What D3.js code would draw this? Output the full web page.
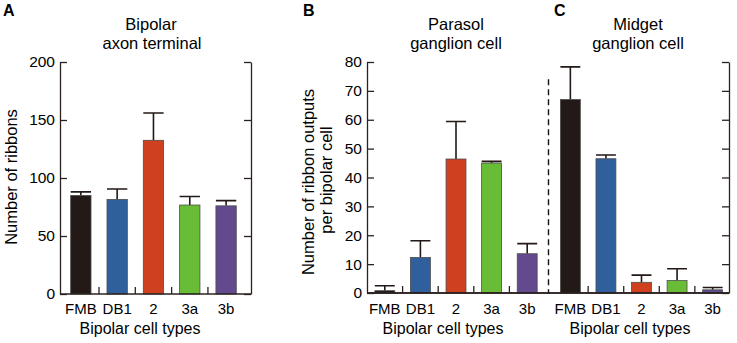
<!DOCTYPE html>
<html>
<head>
<meta charset="utf-8">
<script src="https://cdn.jsdelivr.net/npm/d3@7"></script>
<style>
  body { margin: 0; background: #fff; }
  svg { display: block; font-family: "Liberation Sans", Arial, sans-serif; }
</style>
</head>
<body>
<svg id="fig" width="737" height="343"></svg>
<script>
// data
var cellTypes = ["FMB", "DB1", "2", "3a", "3b"];
var barColours = ["#231916", "#2f5f9c", "#cf401f", "#69bc35", "#634a8e"];

var ribbonMean = [85, 81.5, 132.5, 76.7, 76];      // A: bipolar axon terminal
var ribbonErr = [3, 9, 23.5, 7.3, 4.5];
var parasolMean = [0.8, 12.3, 46.4, 45, 13.6];    // B: parasol ganglion cell
var parasolErr = [1.7, 5.8, 13, 0.6, 3.5];
var midgetMean = [67, 46.5, 3.7, 4.3, 1.1];       // C: midget ganglion cell
var midgetErr = [11.3, 1.3, 2.5, 4.1, 0.8];

var ticksA = [0, 50, 100, 150, 200];
var ticksB = [0, 10, 20, 30, 40, 50, 60, 70, 80];

const svg = d3.select("#fig");
var axisColour = "#2a2220";
var textColour = "#000";

// y scales
var yA = d3.scaleLinear().domain([0, 200]).range([294, 62]);
var yB = d3.scaleLinear().domain([0, 80]).range([293, 62]);

// x scales
var xA = d3.scaleBand().domain(cellTypes).range([60, 251]).paddingInner(0.44).paddingOuter(0.35).align(0.42);
var xB = d3.scaleBand().domain(cellTypes).range([367, 545]).paddingInner(0.44).paddingOuter(0.22);
var xC = d3.scaleBand().domain(cellTypes).range([554, 729]).paddingInner(0.44).paddingOuter(0.18);

function leftAxis(y, x0, ticks) {
  var g = svg.append("g")
    .attr("transform", "translate(" + x0 + ",0)")
    .call(d3.axisLeft(y).tickValues(ticks).tickSizeInner(-7).tickSizeOuter(0).tickPadding(5));
  g.selectAll("path, line").attr("stroke", axisColour).attr("stroke-width", 1.3);
  g.selectAll("text").attr("font-size", 15.5).attr("fill", textColour).attr("font-family", null);
}

function rightAxis(y, x0, ticks) {
  var g = svg.append("g")
    .attr("transform", "translate(" + x0 + ",0)")
    .call(d3.axisRight(y).tickValues(ticks).tickSizeInner(-7).tickSizeOuter(0).tickFormat(""));
  g.selectAll("path, line").attr("stroke", axisColour).attr("stroke-width", 1.3);
}

function bottomAxis(x, y0, xStart, xEnd) {
  svg.append("line")
    .attr("x1", xStart).attr("x2", xEnd)
    .attr("y1", y0).attr("y2", y0)
    .attr("stroke", axisColour).attr("stroke-width", 1.3);
  var half = x.step() * x.paddingInner() / 2;
  // small upward ticks between bars
  svg.append("g").selectAll("line")
    .data(cellTypes.slice(1))
    .enter().append("line")
      .attr("x1", d => x(d) - half).attr("x2", d => x(d) - half)
      .attr("y1", y0).attr("y2", y0 - 7)
      .attr("stroke", axisColour).attr("stroke-width", 1.3);
  // category labels
  svg.append("g").selectAll("text")
    .data(cellTypes)
    .enter().append("text")
      .attr("x", d => x(d) + x.bandwidth() / 2)
      .attr("y", 313.5)
      .attr("text-anchor", "middle")
      .attr("font-size", 15)
      .attr("fill", textColour)
      .text(d => d);
}

function bars(x, y, means, errs) {
  var rows = cellTypes.map((c, i) => ({ type: c, mean: means[i], err: errs[i], colour: barColours[i] }));
  var g = svg.append("g");
  // error bars first, so the bar covers the lower half
  g.selectAll(".err")
    .data(rows)
    .enter().append("path")
      .attr("class", "err")
      .attr("fill", "none")
      .attr("stroke", "#231916")
      .attr("stroke-width", 1.6)
      .attr("d", d => {
        var cx = x(d.type) + x.bandwidth() / 2;
        var top = y(d.mean + d.err);
        return "M" + cx + "," + y(d.mean) + "V" + top +
               "M" + x(d.type) + "," + top + "H" + (x(d.type) + x.bandwidth());
      });
  g.selectAll(".bar")
    .data(rows)
    .enter().append("rect")
      .attr("class", "bar")
      .attr("x", d => x(d.type))
      .attr("y", d => y(d.mean))
      .attr("width", x.bandwidth())
      .attr("height", d => y(0) - y(d.mean))
      .attr("fill", d => d.colour)
      .attr("stroke", "#4d4d4d")
      .attr("stroke-width", 0.8);
}

function label(txt, x, y, size, weight, anchor) {
  svg.append("text")
    .attr("x", x).attr("y", y)
    .attr("font-size", size)
    .attr("font-weight", weight || "normal")
    .attr("text-anchor", anchor || "middle")
    .attr("fill", textColour)
    .text(txt);
}

// ---- panel A
bars(xA, yA, ribbonMean, ribbonErr);
leftAxis(yA, 60, ticksA);
rightAxis(yA, 251, ticksA);
bottomAxis(xA, yA(0), 60, 251);

// ---- panels B and C share one y scale
bars(xB, yB, parasolMean, parasolErr);
bars(xC, yB, midgetMean, midgetErr);
leftAxis(yB, 367, ticksB);
rightAxis(yB, 729, ticksB);
bottomAxis(xB, yB(0), 367, 729);
bottomAxis(xC, yB(0), 367, 729);

// dashed divider between B and C
var divX = (xB.range()[1] + xC.range()[0]) / 2 - 1;
svg.append("line")
  .attr("x1", divX).attr("x2", divX)
  .attr("y1", yB(74)).attr("y2", yB(0))
  .attr("stroke", "#111").attr("stroke-width", 1.4)
  .attr("stroke-dasharray", "6,4");

// panel letters
label("A", 3, 16, 16, "bold", "start");
label("B", 303, 16, 16, "bold", "start");
label("C", 554, 16, 16, "bold", "start");

// titles
label("Bipolar", 151, 30, 16.5);
label("axon terminal", 152, 49, 16.5);
label("Parasol", 456, 30, 16.5);
label("ganglion cell", 456, 49, 16.5);
label("Midget", 638, 30, 16.5);
label("ganglion cell", 638, 49, 16.5);

// x axis titles
label("Bipolar cell types", 140, 334, 16);
label("Bipolar cell types", 443, 334, 16);
label("Bipolar cell types", 630, 334, 16);

// y axis titles
svg.append("text")
  .attr("transform", "translate(17,177) rotate(-90)")
  .attr("text-anchor", "middle").attr("font-size", 16.5).attr("fill", textColour)
  .text("Number of ribbons");
svg.append("text")
  .attr("transform", "translate(314,182) rotate(-90)")
  .attr("text-anchor", "middle").attr("font-size", 16.5).attr("fill", textColour)
  .text("Number of ribbon outputs");
svg.append("text")
  .attr("transform", "translate(332,180) rotate(-90)")
  .attr("text-anchor", "middle").attr("font-size", 16.5).attr("fill", textColour)
  .text("per bipolar cell");
</script>
</body>
</html>
